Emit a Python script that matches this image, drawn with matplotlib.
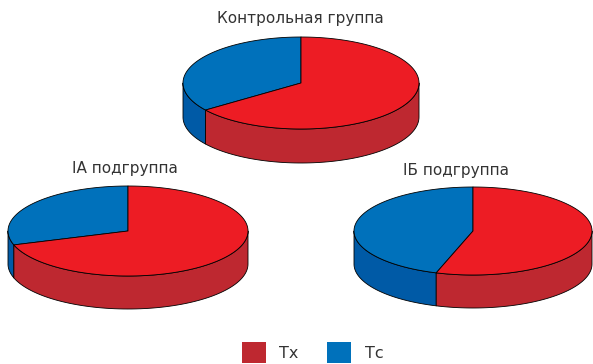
import numpy as np
import matplotlib.pyplot as plt
from matplotlib.patches import Polygon, Rectangle

# data (%)
groups = ['Контрольная группа', 'IA подгруппа', 'IБ подгруппа']
tc_share = [35, 30, 45]   # blue
tx_share = [65, 70, 55]   # red
legend_labels = ['Тх', 'Тс']

red_top, red_side = '#ed1c24', '#be2830'
blue_top, blue_side = '#0071bb', '#005aa6'
text_col = '#333333'

# pie geometry in pixel coords: center x, center y, rx, ry, depth
layout = [(301, 83, 118, 46, 34),
          (128, 231, 120, 45, 33),
          (473, 231, 119, 44, 33)]
title_pos = [(300, 18), (125, 168), (456, 170)]

fig = plt.figure(figsize=(5.93, 3.64), dpi=100)
ax = fig.add_axes([0, 0, 1, 1])
ax.set_xlim(0, 593)
ax.set_ylim(364, 0)
ax.axis('off')


def pt(cx, cy, rx, ry, a, dz=0):
    a = np.radians(a)
    return np.column_stack([cx + rx * np.cos(a), cy - ry * np.sin(a) + dz])


def pie3d(cx, cy, rx, ry, d, vals, tops, sides):
    total = float(sum(vals))
    start = 90.0
    slices = []
    for v, tc, sc in zip(vals, tops, sides):
        span = 360.0 * v / total
        slices.append((start, start + span, tc, sc))
        start += span
    # side walls (front half only: 180..360)
    for a0, a1, tc, sc in slices:
        for off in (0, 360):
            lo = max(a0, 180 + off)
            hi = min(a1, 360 + off)
            if hi <= lo:
                continue
            aa = np.linspace(lo, hi, 80)
            up = pt(cx, cy, rx, ry, aa)
            dn = pt(cx, cy, rx, ry, aa[::-1], d)
            ax.add_patch(Polygon(np.vstack([up, dn]), closed=True, fc=sc,
                                 ec='black', lw=0.6, joinstyle='round'))
    # top faces
    for a0, a1, tc, sc in slices:
        aa = np.linspace(a0, a1, 150)
        arc = pt(cx, cy, rx, ry, aa)
        poly = np.vstack([[cx, cy], arc])
        ax.add_patch(Polygon(poly, closed=True, fc=tc, ec='black', lw=0.6,
                             joinstyle='round'))


for (cx, cy, rx, ry, d), tc, tx, name, (tx_x, tx_y) in zip(
        layout, tc_share, tx_share, groups, title_pos):
    pie3d(cx, cy, rx, ry, d, [tc, tx], [blue_top, red_top],
          [blue_side, red_side])
    ax.text(tx_x, tx_y, name, ha='center', va='center', fontsize=11,
            color=text_col)

# legend
ax.add_patch(Rectangle((242, 342), 24, 21, fc=red_side, ec='none'))
ax.text(279, 353, legend_labels[0], ha='left', va='center', fontsize=11.5,
        color=text_col)
ax.add_patch(Rectangle((327, 342), 24, 21, fc=blue_top, ec='none'))
ax.text(365, 353, legend_labels[1], ha='left', va='center', fontsize=11.5,
        color=text_col)

fig.savefig('out.png', dpi=100)
